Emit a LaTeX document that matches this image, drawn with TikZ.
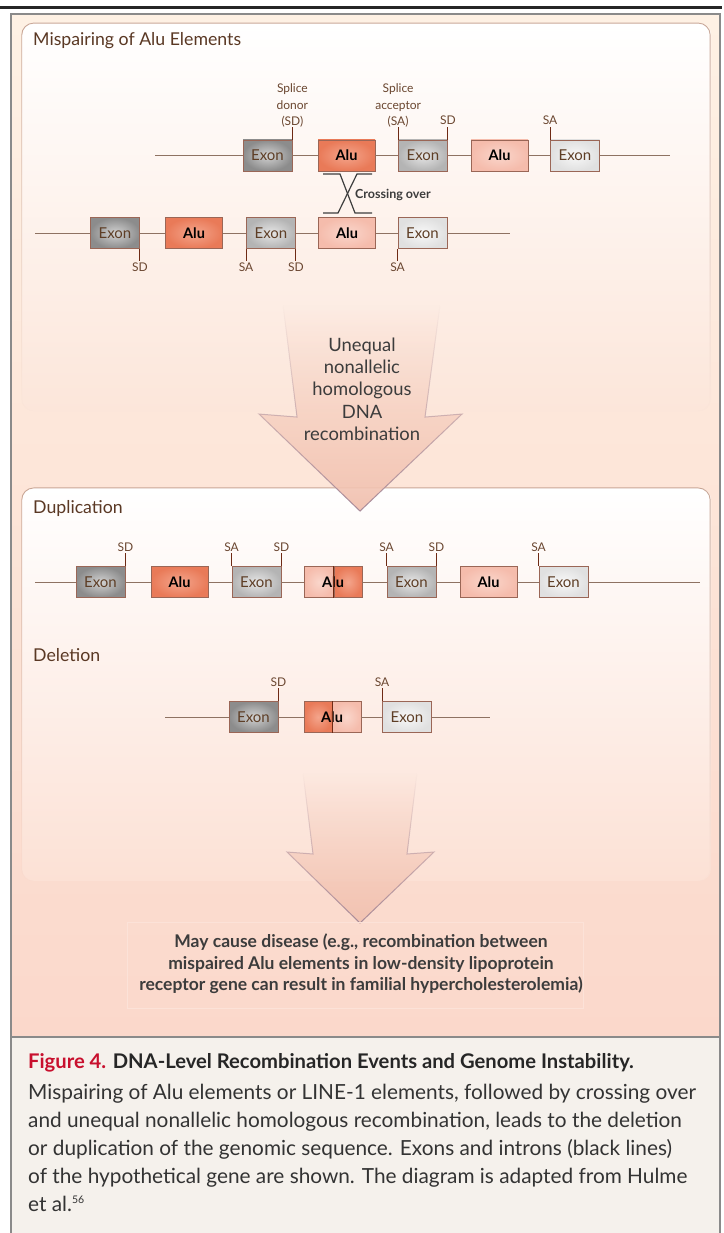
\documentclass[tikz,border=0pt]{standalone}
\usepackage{fontspec}
\setmainfont{Lato}
\usetikzlibrary{fadings}
\definecolor{bgtop}{HTML}{FEF1E4}
\definecolor{bgbot}{HTML}{FBD8CB}
\definecolor{capfill}{HTML}{F5F1EC}
\definecolor{framecol}{HTML}{8A8A8A}
\definecolor{panelline}{HTML}{C9A797}
\definecolor{panelbot1}{HTML}{FCE6DA}
\definecolor{panelbot2}{HTML}{FCE1D5}
\definecolor{geneline}{HTML}{8E7262}
\definecolor{tickcol}{HTML}{6E2A14}
\definecolor{lblcol}{HTML}{6A4630}
\definecolor{titlecol}{HTML}{5A3824}
\definecolor{boxline}{HTML}{9A6656}
\definecolor{exontext}{HTML}{5E3E26}
\definecolor{exDin}{HTML}{D2D2D2}
\definecolor{exDout}{HTML}{8C8C8C}
\definecolor{exMin}{HTML}{E6E6E6}
\definecolor{exMout}{HTML}{B4B4B4}
\definecolor{exLin}{HTML}{F8F8F8}
\definecolor{exLout}{HTML}{E0E0E0}
\definecolor{aluDin}{HTML}{F4A58C}
\definecolor{aluDout}{HTML}{E97A58}
\definecolor{aluLin}{HTML}{FAD6CB}
\definecolor{aluLout}{HTML}{F5BCAC}
\definecolor{arrowfill}{HTML}{F2C3B2}
\definecolor{arrowline}{HTML}{A88A98}
\definecolor{darktext}{HTML}{3C3C3C}
\definecolor{figred}{HTML}{C8102E}
\definecolor{crosscol}{HTML}{3E3E3E}
\definecolor{boxfaint}{HTML}{FCE2D8}
\tikzfading[name=arrowfade, top color=transparent!100, middle color=transparent!10, bottom color=transparent!0]
\tikzfading[name=panelfade, top color=transparent!0, bottom color=transparent!100]
\begin{document}
\begin{tikzpicture}[x=1pt,y=-1pt,
  gene/.style={draw=geneline, line width=0.9pt},
  tick/.style={draw=tickcol, line width=1.1pt},
  lbl/.style={font=\fontsize{12}{16.5}\selectfont, text=lblcol, inner sep=1pt, align=center},
  gbox/.style={draw=boxline, line width=0.8pt, minimum height=31pt, inner sep=0pt},
  exfont/.style={font=\fontsize{15}{15}\selectfont, text=exontext},
  exonD/.style={gbox, exfont, minimum width=49pt, inner color=exDin, outer color=exDout},
  exonM/.style={gbox, exfont, minimum width=49pt, inner color=exMin, outer color=exMout},
  exonL/.style={gbox, exfont, minimum width=49pt, inner color=exLin, outer color=exLout},
  alutext/.style={font=\bfseries\fontsize{14.5}{15}\selectfont, text=black},
  aluD/.style={gbox, alutext, minimum width=57pt, inner color=aluDin, outer color=aluDout},
  aluL/.style={gbox, alutext, minimum width=57pt, inner color=aluLin, outer color=aluLout},
  aluDh/.style={aluD, minimum width=28pt},
  aluLh/.style={aluL, minimum width=29pt},
  sectitle/.style={font=\fontsize{17.7}{19}\selectfont, text=titlecol, anchor=west, inner sep=0pt},
]
\useasboundingbox (0,0) rectangle (723,1233);
% top rule and frame
\fill[white] (0,0) rectangle (723,1233);
\draw[line width=3pt, black!85] (0,8) -- (722,8);
\shade[top color=bgtop, bottom color=bgbot] (11,14) rectangle (720,1037);
\fill[capfill] (11,1037) rectangle (720,1240);
\draw[framecol, line width=1.5pt] (11,1037) -- (720,1037);
\draw[framecol, line width=2pt] (11,1240) -- (11,14) -- (720,14) -- (720,1240);
% panels
\shade[top color=white, bottom color=panelbot1, rounded corners=12pt] (22,23) rectangle (711,411);
\draw[panelline, line width=0.9pt, rounded corners=12pt, path fading=panelfade] (22,23) rectangle (711,411);
\shade[top color=white, bottom color=panelbot2, rounded corners=12pt] (22,488) rectangle (711,881);
\draw[panelline, line width=0.9pt, rounded corners=12pt, path fading=panelfade] (22,488) rectangle (711,881);
% arrows
\fill[arrowfill, path fading=arrowfade] (283,305) -- (297,417) -- (259,414) -- (360,511) -- (462,414) -- (425,417) -- (440,305) -- cycle;
\draw[arrowline, line width=1pt, line join=miter, path fading=arrowfade] (283,305) -- (297,417) -- (259,414) -- (360,511) -- (462,414) -- (425,417) -- (440,305);
\fill[arrowfill, path fading=arrowfade] (303,773) -- (313,854) -- (287,852) -- (360,923) -- (434,852) -- (407,854) -- (417,773) -- cycle;
\draw[arrowline, line width=1pt, line join=miter, path fading=arrowfade] (303,773) -- (313,854) -- (287,852) -- (360,923) -- (434,852) -- (407,854) -- (417,773);
\node[font=\fontsize{18.4}{22.3}\selectfont, text=darktext, align=center] (arrowtxt) at (362,389) {Unequal\\nonallelic\\homologous\\DNA\\recombination};
% section titles
\node[sectitle] (t1) at (33,41) {Mispairing of Alu Elements};
\node[sectitle] (t2) at (33,508) {Duplication};
\node[sectitle] (t3) at (33,655) {Deletion};
% ---------- Row 1
\coordinate (r1s) at (155,155.5);
\coordinate (r1f) at (670,155.5);
\node[exonD] (r1e1) at (267.5,155.5) {Exon};
\node[aluD]  (r1a1) at (346.5,155.5) {Alu};
\node[exonM] (r1e2) at (423,155.5) {Exon};
\node[aluL]  (r1a2) at (499.5,155.5) {Alu};
\node[exonL] (r1e3) at (575,155.5) {Exon};
\draw[gene] (r1s) -- (r1e1) (r1e1) -- (r1a1) (r1a1) -- (r1e2) (r1e2) -- (r1a2) (r1a2) -- (r1e3) (r1e3) -- (r1f);
\draw[tick] (r1e1.north east) -- ++(0,-13) node[lbl, anchor=south, yshift=-2.5pt] (l1) {Splice\\donor\\(SD)};
\draw[tick] (r1e2.north west) -- ++(0,-13) node[lbl, anchor=south, yshift=-2.5pt] (l2) {Splice\\acceptor\\(SA)};
\draw[tick] (r1e2.north east) -- ++(0,-13) node[lbl, anchor=south] (l3) {SD};
\draw[tick] (r1e3.north west) -- ++(0,-13) node[lbl, anchor=south] (l4) {SA};
% crossing over
\draw[crosscol, line width=1.2pt] (323,174) -- (340,174) -- (355,213) -- (372,213);
\draw[crosscol, line width=1.2pt] (372,174) -- (357,174) -- (338,213) -- (323,213);
\node[font=\bfseries\fontsize{12.5}{13}\selectfont, text=darktext, anchor=west, inner sep=0pt] (cross) at (355,195) {Crossing over};
% ---------- Row 2
\coordinate (r2s) at (35,233);
\coordinate (r2f) at (510,233);
\node[exonD] (r2e1) at (115,233) {Exon};
\node[aluD]  (r2a1) at (194,233) {Alu};
\node[exonM] (r2e2) at (271,233) {Exon};
\node[aluL]  (r2a2) at (347,233) {Alu};
\node[exonL] (r2e3) at (422.5,233) {Exon};
\draw[gene] (r2s) -- (r2e1) (r2e1) -- (r2a1) (r2a1) -- (r2e2) (r2e2) -- (r2a2) (r2a2) -- (r2e3) (r2e3) -- (r2f);
\draw[tick] (r2e1.south east) -- ++(0,12) node[lbl, anchor=north] (l5) {SD};
\draw[tick] (r2e2.south west) -- ++(0,12) node[lbl, anchor=north] (l6) {SA};
\draw[tick] (r2e2.south east) -- ++(0,12) node[lbl, anchor=north] (l7) {SD};
\draw[tick] (r2e3.south west) -- ++(0,12) node[lbl, anchor=north] (l8) {SA};
% ---------- Duplication
\coordinate (ds) at (35,582);
\coordinate (df) at (700,582);
\node[exonD] (d1) at (100.5,582) {Exon};
\node[aluD]  (d2) at (179.5,582) {Alu};
\node[exonM] (d3) at (256.5,582) {Exon};
\node[aluLh] (d4l) at (319,582) {};
\node[aluDh] (d4r) at (348,582) {};
\node[alutext, inner sep=0pt] (d4t) at (333,582) {Alu};
\node[exonM] (d5) at (411.5,582) {Exon};
\node[aluL]  (d6) at (488.5,582) {Alu};
\node[exonL] (d7) at (563.5,582) {Exon};
\draw[tick] (d4l.north east) -- (d4l.south east);
\draw[gene] (ds) -- (d1) (d1) -- (d2) (d2) -- (d3) (d3) -- (d4l) (d4r) -- (d5) (d5) -- (d6) (d6) -- (d7) (d7) -- (df);
\draw[tick] (d1.north east) -- ++(0,-13) node[lbl, anchor=south] (l9) {SD};
\draw[tick] (d3.north west) -- ++(0,-13) node[lbl, anchor=south] (l10) {SA};
\draw[tick] (d3.north east) -- ++(0,-13) node[lbl, anchor=south] (l11) {SD};
\draw[tick] (d5.north west) -- ++(0,-13) node[lbl, anchor=south] (l12) {SA};
\draw[tick] (d5.north east) -- ++(0,-13) node[lbl, anchor=south] (l13) {SD};
\draw[tick] (d7.north west) -- ++(0,-13) node[lbl, anchor=south] (l14) {SA};
% ---------- Deletion
\coordinate (xs) at (165,717);
\coordinate (xf) at (490,717);
\node[exonD] (x1) at (253.5,717) {Exon};
\node[aluDh] (x2l) at (318,717) {};
\node[aluLh] (x2r) at (346.5,717) {};
\node[alutext, inner sep=0pt] (x2t) at (332,717) {Alu};
\node[exonL] (x3) at (407,717) {Exon};
\draw[tick] (x2l.north east) -- (x2l.south east);
\draw[gene] (xs) -- (x1) (x1) -- (x2l) (x2r) -- (x3) (x3) -- (xf);
\draw[tick] (x1.north east) -- ++(0,-13) node[lbl, anchor=south] (l15) {SD};
\draw[tick] (x3.north west) -- ++(0,-13) node[lbl, anchor=south] (l16) {SA};
% disease box
\draw[boxfaint, line width=0.6pt] (127,922) rectangle (583,1008);
\node[font=\bfseries\fontsize{17.5}{21.5}\selectfont, text=darktext, align=center] (disease) at (361,964) {May cause disease (e.g., recombination between\\mispaired Alu elements in low-density lipoprotein\\receptor gene can result in familial hypercholesterolemia)};
% caption
\node[anchor=west, inner sep=0pt, font=\bfseries\fontsize{20.2}{22}\selectfont, text=black!85] (captitle) at (28,1063) {\textcolor{figred}{Figure 4.} DNA-Level Recombination Events and Genome Instability.};
\node[anchor=north west, inner sep=0pt, align=left, font=\fontsize{20.8}{28}\selectfont, text=black!80] (capbody) at (28,1084) {Mispairing of Alu elements or LINE-1 elements, followed by crossing over\\and unequal nonallelic homologous recombination, leads to the deletion\\or duplication of the genomic sequence. Exons and introns (black lines)\\of the hypothetical gene are shown. The diagram is adapted from Hulme\\et al.\raisebox{8pt}{\fontsize{10.5}{11}\selectfont 56}};
\end{tikzpicture}
\end{document}
